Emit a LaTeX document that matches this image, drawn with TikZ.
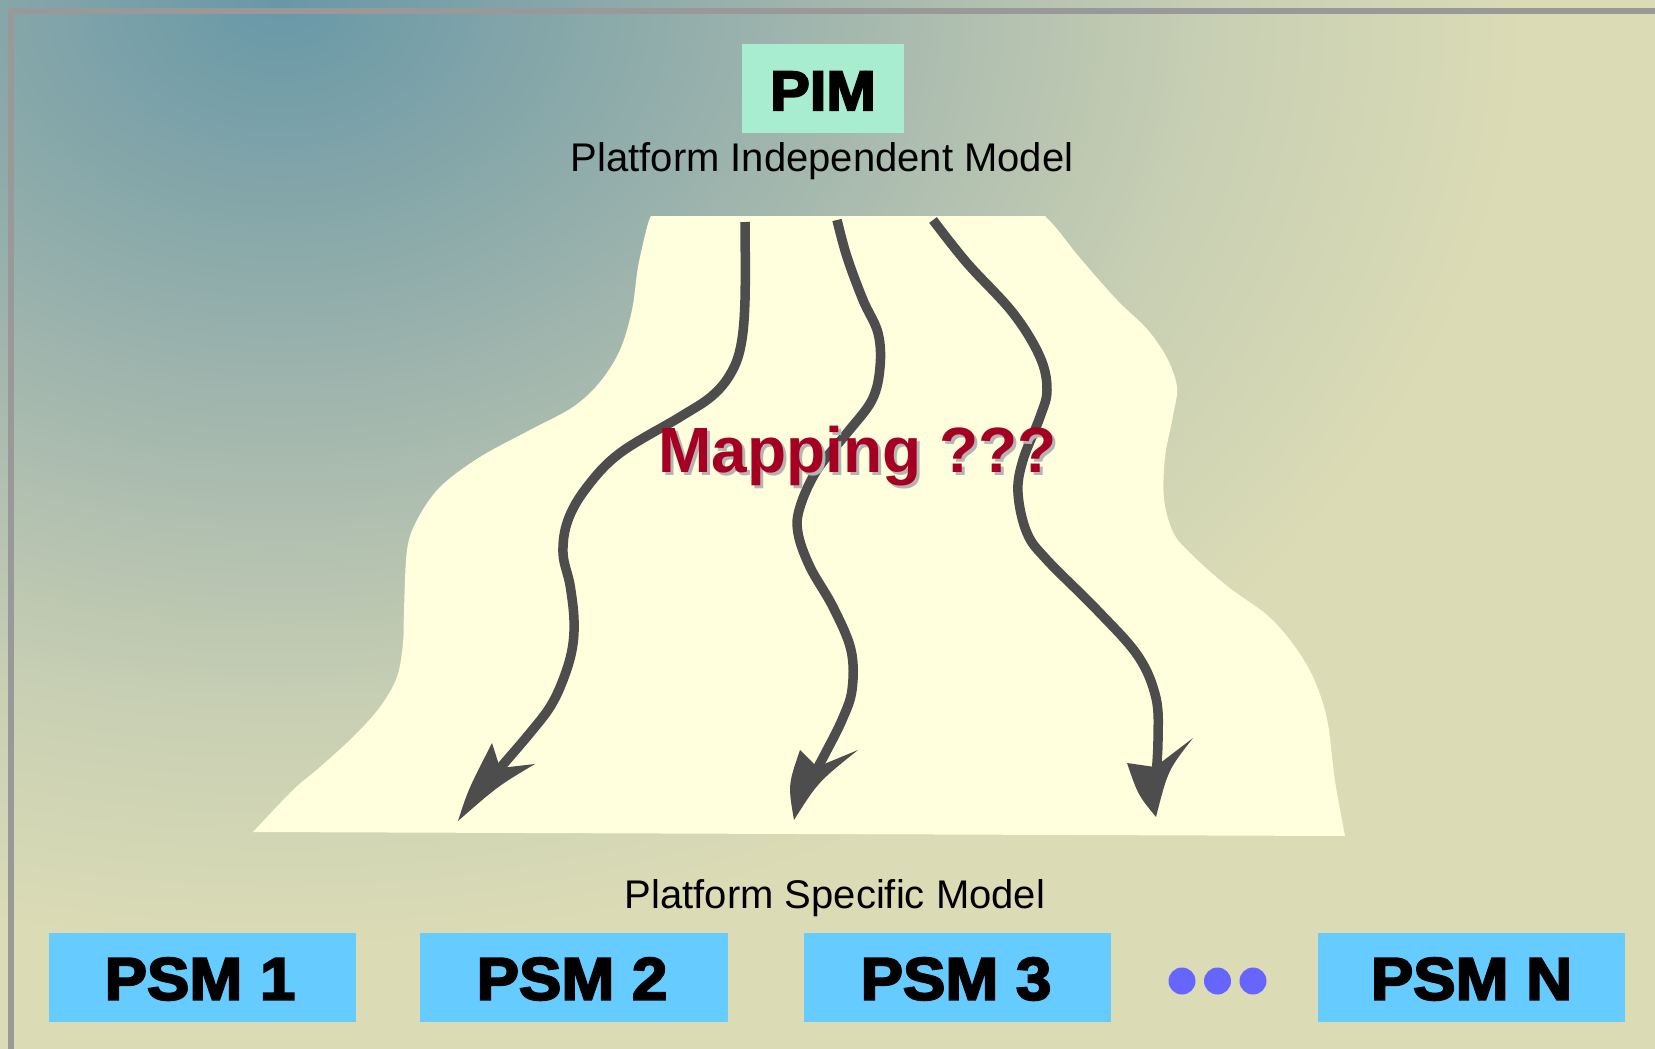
\documentclass[tikz,border=0pt]{standalone}
\usepackage{fontspec}
\setmainfont{Liberation Sans}
\newfontfamily\heavyfont{Liberation Sans}[FakeBold=3.5, FakeStretch=1.06]
\definecolor{bgA}{HTML}{6898A8}
\definecolor{bgB}{HTML}{84A6A9}
\definecolor{bgC}{HTML}{A5B8AE}
\definecolor{bgD}{HTML}{C8CFB3}
\definecolor{bgE}{HTML}{DBDCB5}
\definecolor{cream}{HTML}{FFFFDD}
\definecolor{arrowgray}{HTML}{4D4D4D}
\definecolor{pimgreen}{HTML}{A8EDD0}
\definecolor{psmblue}{HTML}{66CCFF}
\definecolor{dotblue}{HTML}{6666FF}
\definecolor{mapred}{HTML}{A50021}
\definecolor{shadowgray}{HTML}{B4B4B4}
\definecolor{framegray}{HTML}{999999}
\pgfdeclareradialshading{bgshade}{\pgfpoint{0bp}{0bp}}{%
  color(0bp)=(bgA); color(5.25bp)=(bgB); color(11.5bp)=(bgC);
  color(18.75bp)=(bgD); color(25bp)=(bgE); color(50bp)=(bgE)}
\tikzset{
  modelbox/.style={fill=#1, inner sep=0pt, minimum height=89pt},
  modeltext/.style={inner sep=0pt,
    font=\heavyfont\bfseries\fontsize{60}{62}\selectfont},
  caption/.style={inner sep=0pt, anchor=base, font=\fontsize{40}{44}\selectfont},
  flow/.style={draw=arrowgray, line width=9.5pt, line cap=butt},
  flowhead/.style={fill=arrowgray},
  dotmark/.style={circle, fill=dotblue, minimum size=27pt, inner sep=0pt}
}
\begin{document}
\begin{tikzpicture}[x=1pt,y=-1pt]
\useasboundingbox (0,0) rectangle (1655,1049);
% background
\fill[bgE] (0,0) rectangle (1655,1049);
\begin{scope}
  \clip (0,0) rectangle (1655,1049);
  \shade[shading=bgshade] (280,0) ellipse [x radius=1250, y radius=950];
\end{scope}
\draw[framegray, line width=6pt] (11,1049) -- (11,11) -- (1655,11);

% mapping area
\fill[cream] plot[smooth, tension=0.55] coordinates {
  (253,832) (293,790) (320,767) (353,737) (380,707) (397,677) (403,643)
  (404,610) (407,550) (417,520) (440,487) (480,457) (530,430) (573,407)
  (600,382) (620,350) (632,310) (638,267) (647,227) (651,216)}
  -- plot[smooth, tension=0.55] coordinates {
  (1045,216) (1057,229) (1080,258) (1117,300) (1147,329) (1167,358)
  (1177,387) (1173,416) (1165,457) (1164,499) (1173,532) (1190,553)
  (1227,586) (1267,615) (1293,644) (1313,677) (1327,719) (1335,781)
  (1345,836)} -- cycle;

% models
\node[modelbox=pimgreen, minimum width=162pt] (pim) at (823,88.5) {};
\node[modeltext, font=\heavyfont\bfseries\fontsize{56}{58}\selectfont]
  (pimtext) at (823,91) {PIM};
\node[caption] (pimcap) at (822,171) {Platform Independent Model};
\node[caption] (psmcap) at (835,908) {Platform Specific Model};
\node[modelbox=psmblue, minimum width=307pt] (psm1) at (202,977) {};
\node[modelbox=psmblue, minimum width=308pt] (psm2) at (574,977) {};
\node[modelbox=psmblue, minimum width=307pt] (psm3) at (957.5,977) {};
\node[modelbox=psmblue, minimum width=307pt] (psmn) at (1471.5,977) {};
\node[modeltext] (psm1text) at (200,979) {PSM 1};
\node[modeltext] (psm2text) at (572,979) {PSM 2};
\node[modeltext] (psm3text) at (956,979) {PSM 3};
\node[modeltext] (psmntext) at (1471.5,979) {PSM N};
\node[dotmark] (d1) at (1182,981) {};
\node[dotmark] (d2) at (1217.5,981) {};
\node[dotmark] (d3) at (1253,981) {};

% mapping arrows
\coordinate (s1) at (745,222);
\coordinate (e1) at (493,776);
\coordinate (s2) at (837,220);
\coordinate (e2) at (812,778);
\coordinate (s3) at (933,220);
\coordinate (e3) at (1156,776);
\draw[flow] plot[smooth, tension=0.6] coordinates {
  (s1) (745,300) (741,345) (731,373) (712,396) (680,417) (620,453)
  (587,487) (568,520) (563,553) (570,585) (574,620) (572,650) (563,680)
  (550,707) (530,733) (507,760) (e1)};
\draw[flow] plot[smooth, tension=0.6] coordinates {
  (s2) (847,257) (863,300) (878,333) (880,367) (872,400) (847,433)
  (817,470) (800,507) (798,533) (810,567) (833,607) (851,650) (852,690)
  (842,720) (826,752) (e2)};
\draw[flow] plot[smooth, tension=0.6] coordinates {
  (s3) (967,263) (1013,313) (1040,357) (1047,390) (1040,417) (1023,460)
  (1018,493) (1027,533) (1047,560) (1097,610) (1138,656) (1156,698)
  (1158,740) (e3)};
\fill[flowhead] (458,821) .. controls (468,790) .. (492,743) -- (500,768)
  -- (535,764) .. controls (498,786) .. (458,821) -- cycle;
\fill[flowhead] (794,820) .. controls (788,785) .. (800,750) -- (817,767)
  -- (858,750) .. controls (818,782) .. (794,820) -- cycle;
\fill[flowhead] (1156,817) .. controls (1138,795) .. (1127,763) -- (1155,767)
  -- (1193,738) .. controls (1168,770) .. (1156,817) -- cycle;

% label over the arrows
\node[inner sep=0pt, anchor=base west, text=shadowgray,
  font=\bfseries\fontsize{64}{70}\selectfont] (mapshadow) at (661,475) {Mapping ???};
\node[inner sep=0pt, anchor=base west, text=mapred,
  font=\bfseries\fontsize{64}{70}\selectfont] (maplabel) at (658,472) {Mapping ???};
\end{tikzpicture}
\end{document}
